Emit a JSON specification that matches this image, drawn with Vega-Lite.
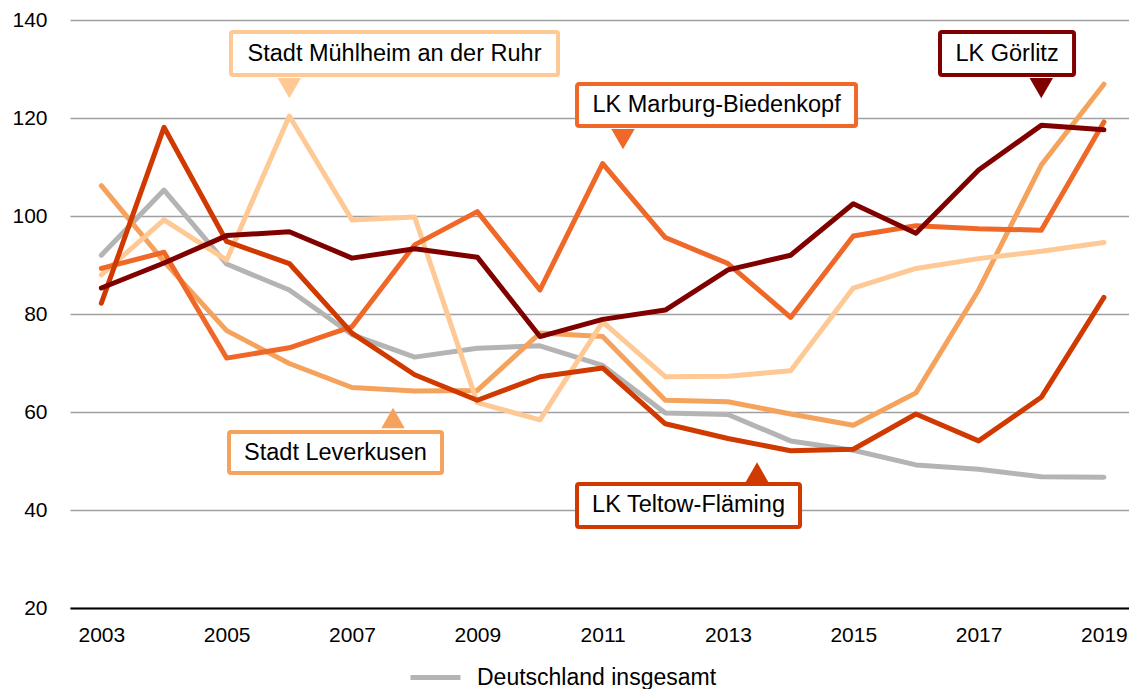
{
  "$schema": "https://vega.github.io/schema/vega-lite/v6.json",
  "width": 1059,
  "height": 588,
  "autosize": {"type": "none"},
  "padding": {"left": 70, "top": 20, "right": 0, "bottom": 81},
  "background": "white",
  "config": {
    "view": {"stroke": null},
    "font": "Liberation Sans",
    "axis": {"labelFont": "Liberation Sans", "labelColor": "#000000", "title": null}
  },
  "datasets": {
    "series": [
      {"region": "Deutschland insgesamt", "year": 2003, "value": 92.0},
      {"region": "Deutschland insgesamt", "year": 2004, "value": 105.3},
      {"region": "Deutschland insgesamt", "year": 2005, "value": 90.2},
      {"region": "Deutschland insgesamt", "year": 2006, "value": 84.9},
      {"region": "Deutschland insgesamt", "year": 2007, "value": 75.8},
      {"region": "Deutschland insgesamt", "year": 2008, "value": 71.2},
      {"region": "Deutschland insgesamt", "year": 2009, "value": 73.0},
      {"region": "Deutschland insgesamt", "year": 2010, "value": 73.5},
      {"region": "Deutschland insgesamt", "year": 2011, "value": 69.5},
      {"region": "Deutschland insgesamt", "year": 2012, "value": 59.8},
      {"region": "Deutschland insgesamt", "year": 2013, "value": 59.5},
      {"region": "Deutschland insgesamt", "year": 2014, "value": 54.1},
      {"region": "Deutschland insgesamt", "year": 2015, "value": 52.2},
      {"region": "Deutschland insgesamt", "year": 2016, "value": 49.2},
      {"region": "Deutschland insgesamt", "year": 2017, "value": 48.3},
      {"region": "Deutschland insgesamt", "year": 2018, "value": 46.8},
      {"region": "Deutschland insgesamt", "year": 2019, "value": 46.7},

      {"region": "Stadt Leverkusen", "year": 2003, "value": 106.2},
      {"region": "Stadt Leverkusen", "year": 2004, "value": 90.7},
      {"region": "Stadt Leverkusen", "year": 2005, "value": 76.6},
      {"region": "Stadt Leverkusen", "year": 2006, "value": 69.9},
      {"region": "Stadt Leverkusen", "year": 2007, "value": 65.0},
      {"region": "Stadt Leverkusen", "year": 2008, "value": 64.3},
      {"region": "Stadt Leverkusen", "year": 2009, "value": 64.4},
      {"region": "Stadt Leverkusen", "year": 2010, "value": 76.1},
      {"region": "Stadt Leverkusen", "year": 2011, "value": 75.4},
      {"region": "Stadt Leverkusen", "year": 2012, "value": 62.4},
      {"region": "Stadt Leverkusen", "year": 2013, "value": 62.1},
      {"region": "Stadt Leverkusen", "year": 2014, "value": 59.6},
      {"region": "Stadt Leverkusen", "year": 2015, "value": 57.3},
      {"region": "Stadt Leverkusen", "year": 2016, "value": 63.9},
      {"region": "Stadt Leverkusen", "year": 2017, "value": 84.9},
      {"region": "Stadt Leverkusen", "year": 2018, "value": 110.4},
      {"region": "Stadt Leverkusen", "year": 2019, "value": 126.9},

      {"region": "Stadt Mühlheim an der Ruhr", "year": 2003, "value": 88.0},
      {"region": "Stadt Mühlheim an der Ruhr", "year": 2004, "value": 99.2},
      {"region": "Stadt Mühlheim an der Ruhr", "year": 2005, "value": 91.0},
      {"region": "Stadt Mühlheim an der Ruhr", "year": 2006, "value": 120.4},
      {"region": "Stadt Mühlheim an der Ruhr", "year": 2007, "value": 99.2},
      {"region": "Stadt Mühlheim an der Ruhr", "year": 2008, "value": 99.8},
      {"region": "Stadt Mühlheim an der Ruhr", "year": 2009, "value": 61.9},
      {"region": "Stadt Mühlheim an der Ruhr", "year": 2010, "value": 58.4},
      {"region": "Stadt Mühlheim an der Ruhr", "year": 2011, "value": 78.4},
      {"region": "Stadt Mühlheim an der Ruhr", "year": 2012, "value": 67.2},
      {"region": "Stadt Mühlheim an der Ruhr", "year": 2013, "value": 67.3},
      {"region": "Stadt Mühlheim an der Ruhr", "year": 2014, "value": 68.4},
      {"region": "Stadt Mühlheim an der Ruhr", "year": 2015, "value": 85.3},
      {"region": "Stadt Mühlheim an der Ruhr", "year": 2016, "value": 89.3},
      {"region": "Stadt Mühlheim an der Ruhr", "year": 2017, "value": 91.3},
      {"region": "Stadt Mühlheim an der Ruhr", "year": 2018, "value": 92.8},
      {"region": "Stadt Mühlheim an der Ruhr", "year": 2019, "value": 94.6},

      {"region": "LK Marburg-Biedenkopf", "year": 2003, "value": 89.3},
      {"region": "LK Marburg-Biedenkopf", "year": 2004, "value": 92.6},
      {"region": "LK Marburg-Biedenkopf", "year": 2005, "value": 71.0},
      {"region": "LK Marburg-Biedenkopf", "year": 2006, "value": 73.1},
      {"region": "LK Marburg-Biedenkopf", "year": 2007, "value": 77.4},
      {"region": "LK Marburg-Biedenkopf", "year": 2008, "value": 94.1},
      {"region": "LK Marburg-Biedenkopf", "year": 2009, "value": 100.9},
      {"region": "LK Marburg-Biedenkopf", "year": 2010, "value": 84.9},
      {"region": "LK Marburg-Biedenkopf", "year": 2011, "value": 110.7},
      {"region": "LK Marburg-Biedenkopf", "year": 2012, "value": 95.6},
      {"region": "LK Marburg-Biedenkopf", "year": 2013, "value": 90.3},
      {"region": "LK Marburg-Biedenkopf", "year": 2014, "value": 79.3},
      {"region": "LK Marburg-Biedenkopf", "year": 2015, "value": 95.9},
      {"region": "LK Marburg-Biedenkopf", "year": 2016, "value": 98.0},
      {"region": "LK Marburg-Biedenkopf", "year": 2017, "value": 97.4},
      {"region": "LK Marburg-Biedenkopf", "year": 2018, "value": 97.1},
      {"region": "LK Marburg-Biedenkopf", "year": 2019, "value": 119.2},

      {"region": "LK Teltow-Fläming", "year": 2003, "value": 82.2},
      {"region": "LK Teltow-Fläming", "year": 2004, "value": 118.1},
      {"region": "LK Teltow-Fläming", "year": 2005, "value": 94.8},
      {"region": "LK Teltow-Fläming", "year": 2006, "value": 90.3},
      {"region": "LK Teltow-Fläming", "year": 2007, "value": 76.1},
      {"region": "LK Teltow-Fläming", "year": 2008, "value": 67.6},
      {"region": "LK Teltow-Fläming", "year": 2009, "value": 62.4},
      {"region": "LK Teltow-Fläming", "year": 2010, "value": 67.2},
      {"region": "LK Teltow-Fläming", "year": 2011, "value": 69.0},
      {"region": "LK Teltow-Fläming", "year": 2012, "value": 57.6},
      {"region": "LK Teltow-Fläming", "year": 2013, "value": 54.6},
      {"region": "LK Teltow-Fläming", "year": 2014, "value": 52.1},
      {"region": "LK Teltow-Fläming", "year": 2015, "value": 52.4},
      {"region": "LK Teltow-Fläming", "year": 2016, "value": 59.6},
      {"region": "LK Teltow-Fläming", "year": 2017, "value": 54.1},
      {"region": "LK Teltow-Fläming", "year": 2018, "value": 63.0},
      {"region": "LK Teltow-Fläming", "year": 2019, "value": 83.4},

      {"region": "LK Görlitz", "year": 2003, "value": 85.3},
      {"region": "LK Görlitz", "year": 2004, "value": 90.4},
      {"region": "LK Görlitz", "year": 2005, "value": 96.0},
      {"region": "LK Görlitz", "year": 2006, "value": 96.8},
      {"region": "LK Görlitz", "year": 2007, "value": 91.4},
      {"region": "LK Görlitz", "year": 2008, "value": 93.3},
      {"region": "LK Görlitz", "year": 2009, "value": 91.6},
      {"region": "LK Görlitz", "year": 2010, "value": 75.4},
      {"region": "LK Görlitz", "year": 2011, "value": 78.9},
      {"region": "LK Görlitz", "year": 2012, "value": 80.8},
      {"region": "LK Görlitz", "year": 2013, "value": 89.0},
      {"region": "LK Görlitz", "year": 2014, "value": 92.0},
      {"region": "LK Görlitz", "year": 2015, "value": 102.5},
      {"region": "LK Görlitz", "year": 2016, "value": 96.5},
      {"region": "LK Görlitz", "year": 2017, "value": 109.4},
      {"region": "LK Görlitz", "year": 2018, "value": 118.5},
      {"region": "LK Görlitz", "year": 2019, "value": 117.6}
    ]
  },
  "layer": [
    {
      "data": {"name": "series"},
      "transform": [{"filter": "datum.region === 'Deutschland insgesamt'"}],
      "mark": {"type": "line", "strokeWidth": 5, "strokeCap": "round", "strokeJoin": "round"},
      "encoding": {
        "x": {
          "field": "year", "type": "quantitative",
          "scale": {"domain": [2002.5, 2019.4], "nice": false, "zero": false},
          "axis": {
            "values": [2003, 2005, 2007, 2009, 2011, 2013, 2015, 2017, 2019],
            "format": "d", "grid": false, "ticks": false,
            "domainColor": "#000000", "domainWidth": 2,
            "labelFontSize": 21, "labelPadding": 16, "labelFlush": false, "labelOverlap": false
          }
        },
        "y": {
          "field": "value", "type": "quantitative",
          "scale": {"domain": [20, 140], "nice": false, "zero": false},
          "axis": {
            "values": [20, 40, 60, 80, 100, 120, 140],
            "grid": true, "gridColor": "#a0a0a0", "gridWidth": 1.5,
            "domain": false, "ticks": false,
            "labelFontSize": 21, "labelPadding": 23, "labelOverlap": false
          }
        },
        "color": {
          "field": "region", "type": "nominal",
          "scale": {"domain": ["Deutschland insgesamt"], "range": ["#b4b4b4"]},
          "legend": {
            "orient": "none", "legendX": 338, "legendY": 630, "title": null,
            "symbolType": "stroke", "symbolSize": 2500, "symbolStrokeWidth": 5,
            "labelFontSize": 23, "labelFont": "Liberation Sans", "labelColor": "#000000",
            "labelOffset": 14, "labelLimit": 0
          }
        }
      }
    },
    {
      "data": {"name": "series"},
      "transform": [{"filter": "datum.region !== 'Deutschland insgesamt'"}],
      "mark": {"type": "line", "strokeWidth": 5, "strokeCap": "round", "strokeJoin": "round"},
      "encoding": {
        "x": {"field": "year", "type": "quantitative"},
        "y": {"field": "value", "type": "quantitative"},
        "color": {
          "field": "region", "type": "nominal",
          "scale": {
            "domain": ["Stadt Leverkusen", "Stadt Mühlheim an der Ruhr", "LK Marburg-Biedenkopf", "LK Teltow-Fläming", "LK Görlitz"],
            "range": ["#f5a35c", "#ffc995", "#f06828", "#d03a00", "#800000"]
          },
          "legend": null
        }
      }
    },
    {
      "data": {"values": [{}]},
      "layer": [
        {"mark": {"type": "rect", "fill": "white", "stroke": "#ffc995", "strokeWidth": 4, "cornerRadius": 2},
         "encoding": {"x": {"datum": 2005.069, "type": "quantitative"}, "x2": {"datum": 2010.288}, "y": {"datum": 137.55, "type": "quantitative"}, "y2": {"datum": 128.78}}},
        {"mark": {"type": "point", "shape": "triangle-down", "size": 550, "filled": true, "fill": "#ffc995", "opacity": 1, "strokeWidth": 0},
         "encoding": {"x": {"datum": 2006.0, "type": "quantitative"}, "y": {"datum": 126.1, "type": "quantitative"}}},
        {"mark": {"type": "text", "fontSize": 23.5, "font": "Liberation Sans", "fill": "#000000", "align": "center", "baseline": "middle"},
         "encoding": {"x": {"datum": 2007.679, "type": "quantitative"}, "y": {"datum": 133.16, "type": "quantitative"}, "text": {"value": "Stadt Mühlheim an der Ruhr"}}}
      ]
    },
    {
      "data": {"values": [{}]},
      "layer": [
        {"mark": {"type": "rect", "fill": "white", "stroke": "#f06828", "strokeWidth": 4, "cornerRadius": 2},
         "encoding": {"x": {"datum": 2010.591, "type": "quantitative"}, "x2": {"datum": 2015.044}, "y": {"datum": 126.94, "type": "quantitative"}, "y2": {"datum": 118.37}}},
        {"mark": {"type": "point", "shape": "triangle-down", "size": 550, "filled": true, "fill": "#f06828", "opacity": 1, "strokeWidth": 0},
         "encoding": {"x": {"datum": 2011.325, "type": "quantitative"}, "y": {"datum": 115.7, "type": "quantitative"}}},
        {"mark": {"type": "text", "fontSize": 23.5, "font": "Liberation Sans", "fill": "#000000", "align": "center", "baseline": "middle"},
         "encoding": {"x": {"datum": 2012.818, "type": "quantitative"}, "y": {"datum": 122.65, "type": "quantitative"}, "text": {"value": "LK Marburg-Biedenkopf"}}}
      ]
    },
    {
      "data": {"values": [{}]},
      "layer": [
        {"mark": {"type": "rect", "fill": "white", "stroke": "#800000", "strokeWidth": 4, "cornerRadius": 2},
         "encoding": {"x": {"datum": 2016.384, "type": "quantitative"}, "x2": {"datum": 2018.523}, "y": {"datum": 137.55, "type": "quantitative"}, "y2": {"datum": 128.78}}},
        {"mark": {"type": "point", "shape": "triangle-down", "size": 550, "filled": true, "fill": "#800000", "opacity": 1, "strokeWidth": 0},
         "encoding": {"x": {"datum": 2018.0, "type": "quantitative"}, "y": {"datum": 126.1, "type": "quantitative"}}},
        {"mark": {"type": "text", "fontSize": 23.5, "font": "Liberation Sans", "fill": "#000000", "align": "center", "baseline": "middle"},
         "encoding": {"x": {"datum": 2017.454, "type": "quantitative"}, "y": {"datum": 133.16, "type": "quantitative"}, "text": {"value": "LK Görlitz"}}}
      ]
    },
    {
      "data": {"values": [{}]},
      "layer": [
        {"mark": {"type": "rect", "fill": "white", "stroke": "#f5a35c", "strokeWidth": 4, "cornerRadius": 2},
         "encoding": {"x": {"datum": 2005.038, "type": "quantitative"}, "x2": {"datum": 2008.437}, "y": {"datum": 55.92, "type": "quantitative"}, "y2": {"datum": 47.55}}},
        {"mark": {"type": "point", "shape": "triangle-up", "size": 550, "filled": true, "fill": "#f5a35c", "opacity": 1, "strokeWidth": 0},
         "encoding": {"x": {"datum": 2007.655, "type": "quantitative"}, "y": {"datum": 58.78, "type": "quantitative"}}},
        {"mark": {"type": "text", "fontSize": 23.5, "font": "Liberation Sans", "fill": "#000000", "align": "center", "baseline": "middle"},
         "encoding": {"x": {"datum": 2006.737, "type": "quantitative"}, "y": {"datum": 51.73, "type": "quantitative"}, "text": {"value": "Stadt Leverkusen"}}}
      ]
    },
    {
      "data": {"values": [{}]},
      "layer": [
        {"mark": {"type": "rect", "fill": "white", "stroke": "#d03a00", "strokeWidth": 4, "cornerRadius": 2},
         "encoding": {"x": {"datum": 2010.591, "type": "quantitative"}, "x2": {"datum": 2014.15}, "y": {"datum": 45.31, "type": "quantitative"}, "y2": {"datum": 36.53}}},
        {"mark": {"type": "point", "shape": "triangle-up", "size": 550, "filled": true, "fill": "#d03a00", "opacity": 1, "strokeWidth": 0},
         "encoding": {"x": {"datum": 2013.464, "type": "quantitative"}, "y": {"datum": 47.65, "type": "quantitative"}}},
        {"mark": {"type": "text", "fontSize": 23.5, "font": "Liberation Sans", "fill": "#000000", "align": "center", "baseline": "middle"},
         "encoding": {"x": {"datum": 2012.371, "type": "quantitative"}, "y": {"datum": 40.92, "type": "quantitative"}, "text": {"value": "LK Teltow-Fläming"}}}
      ]
    }
  ],
  "resolve": {"scale": {"color": "independent"}}
}
